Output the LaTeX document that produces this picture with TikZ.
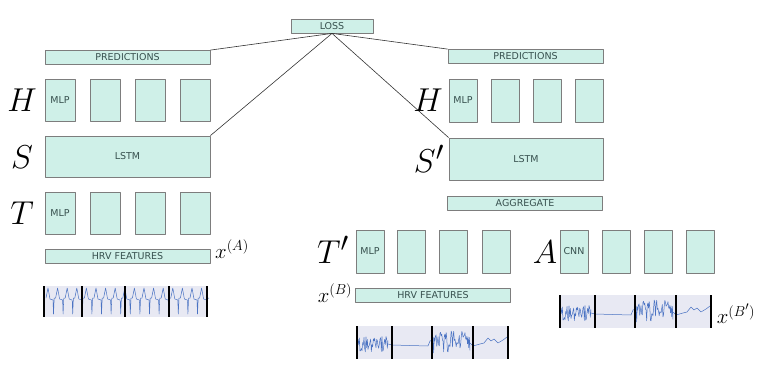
\documentclass[tikz,border=0pt]{standalone}
\usepackage{fontspec}
\newfontfamily\boxfont{DejaVu Sans}

\definecolor{boxfill}{RGB}{207,240,232}
\definecolor{boxline}{RGB}{125,125,125}
\definecolor{boxtext}{RGB}{55,80,78}
\definecolor{sigbg}{RGB}{232,233,243}
\definecolor{sigline}{RGB}{75,115,195}

\tikzset{
  blk/.style={draw=boxline, fill=boxfill, text=boxtext, inner sep=0pt,
    line width=0.8pt, font=\boxfont\fontsize{9.5}{11}\selectfont},
  wide/.style={blk, minimum width=165pt, minimum height=14pt},
  wideB/.style={blk, minimum width=155pt, minimum height=14pt},
  cell/.style={blk, minimum width=30pt, minimum height=42pt},
  cellB/.style={blk, minimum width=28pt, minimum height=43pt},
  varlab/.style={font=\Huge, scale=1.33, transform shape},
  inlab/.style={font=\huge},
  lnk/.style={draw=black!80, line width=0.6pt},
  sig/.style={draw=sigline, line width=0.5pt},
  sep/.style={draw=black, line width=1.6pt}
}

\begin{document}
\begin{tikzpicture}[x=1pt, y=-1pt, line join=round]
  \useasboundingbox (0,0) rectangle (763,382);

  % Verlust oben
  \node[blk, minimum width=82pt, minimum height=14pt] (loss) at (332,26) {LOSS};

  % linker Zweig
  \node[wide] (predA) at (127.5,57.5) {PREDICTIONS};
  \node[cell] (hA1) at ( 60,100) {MLP};
  \node[cell] (hA2) at (105,100) {};
  \node[cell] (hA3) at (150,100) {};
  \node[cell] (hA4) at (195,100) {};
  \node[blk, minimum width=165pt, minimum height=41pt] (lstmA) at (127.5,156.5) {LSTM};
  \node[cell] (tA1) at ( 60,213) {MLP};
  \node[cell] (tA2) at (105,213) {};
  \node[cell] (tA3) at (150,213) {};
  \node[cell] (tA4) at (195,213) {};
  \node[wide] (hrvA) at (127.5,256) {HRV FEATURES};

  % rechter Zweig
  \node[wideB] (predB) at (525.5,56.5) {PREDICTIONS};
  \node[cellB] (hB1) at (463,100.5) {MLP};
  \node[cellB] (hB2) at (505,100.5) {};
  \node[cellB] (hB3) at (547,100.5) {};
  \node[cellB] (hB4) at (589,100.5) {};
  \node[blk, minimum width=154pt, minimum height=42pt] (lstmB) at (526,159) {LSTM};
  \node[wideB] (agg) at (525,203) {AGGREGATE};
  \node[cellB] (tB1) at (370,251.5) {MLP};
  \node[cellB] (tB2) at (411.5,251.5) {};
  \node[cellB] (tB3) at (453.5,251.5) {};
  \node[cellB] (tB4) at (496,251.5) {};
  \node[cellB] (cB1) at (574,251.5) {CNN};
  \node[cellB] (cB2) at (616,251.5) {};
  \node[cellB] (cB3) at (658,251.5) {};
  \node[cellB] (cB4) at (700,251.5) {};
  \node[wideB] (hrvB) at (433,295.5) {HRV FEATURES};

  % Verbindungen zum Verlust
  \draw[lnk] (loss.south) -- (predA.north east);
  \draw[lnk] (loss.south) -- (lstmA.north east);
  \draw[lnk] (loss.south) -- (predB.north west);
  \draw[lnk] (loss.south) -- (lstmB.north west);

  % Bezeichnungen
  \node[varlab] (labH)  at ( 22,100) {$H$};
  \node[varlab] (labS)  at ( 22,157) {$S$};
  \node[varlab] (labT)  at ( 22,213) {$T$};
  \node[varlab] (labHB) at (428,100) {$H$};
  \node[varlab] (labSB) at (429,159) {$S'$};
  \node[varlab] (labTB) at (333,250) {$T'$};
  \node[varlab] (labA)  at (545,252) {$A$};
  \node[inlab] (xA)  at (232,249) {$x^{(A)}$};
  \node[inlab] (xB)  at (335,293) {$x^{(B)}$};
  \node[inlab] (xBB) at (736,314) {$x^{(B')}$};

  % EKG-Ausschnitt links
  \fill[sigbg] (44,286) rectangle (207,317);
  \foreach \k in {0,...,16}
    \draw[sig] ({46+9.6*\k},298) -- ++(2,-10) -- ++(2,11) -- ++(3,1)
      -- ++(0.5,14) -- ++(0.7,-16) -- ++(1.4,0);
  \foreach \x in {44,82,125,169,207}
    \draw[sep] (\x,286) -- (\x,317);

  % verrauschte Signale
  \foreach \sx/\sy in {0/0, 203/-31} {
    \begin{scope}[shift={(\sx,\sy)}]
      \pgfmathsetseed{42}
      \fill[sigbg] (357,326) rectangle (508,359);
      \draw[sig] plot[domain=358:388, samples=46] (\x,{344+8*rand});
      \draw[sig] (388,344) -- (392,345) -- (428,346) -- (430,341) -- (433,340);
      \draw[sig] plot[domain=433:470, samples=60] (\x,{342+11*rand});
      \draw[sig] (470,343) -- (473,346) -- (480,344) -- (484,343) -- (488,338)
        -- (491,341) -- (494,339) -- (498,343) -- (503,340) -- (507,337);
      \foreach \x in {357,392,432,473,508}
        \draw[sep] (\x,326) -- (\x,359);
    \end{scope}
  }
\end{tikzpicture}
\end{document}
